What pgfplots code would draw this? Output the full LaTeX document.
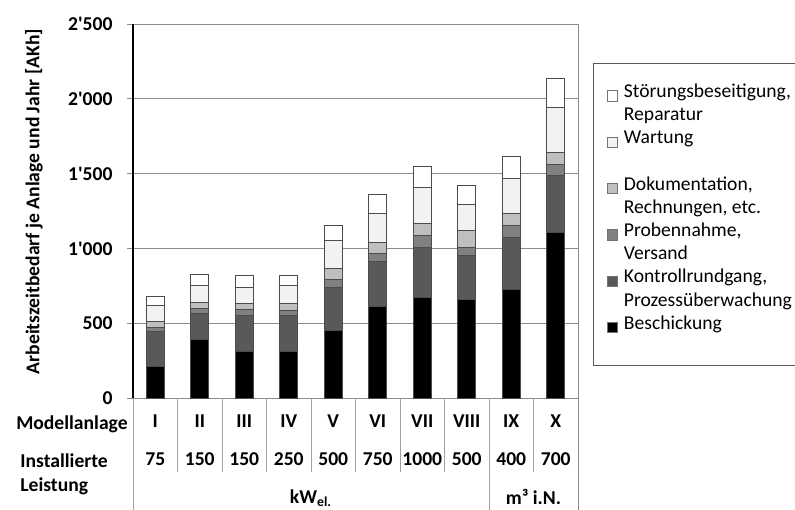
\documentclass[border=0pt]{standalone}
\usepackage{fontspec}
\setmainfont{Carlito}
\newfontfamily\tf{Carlito}
\usepackage{pgfplots}
\usepackage{pgfplotstable}
\pgfplotsset{compat=1.18}
\definecolor{cK}{HTML}{595959}
\definecolor{cP}{HTML}{808080}
\definecolor{cD}{HTML}{BFBFBF}
\definecolor{cW}{HTML}{F2F2F2}
\definecolor{gridc}{HTML}{8C8C8C}
\definecolor{sepc}{HTML}{A0A0A0}
\newcommand\f{\fontsize{9.8}{11.8}\selectfont}
\pgfplotsset{legsq/.style={legend image code/.code={\draw[draw=black!55,line width=0.4pt,fill=#1] (0pt,-1.3pt) rectangle (5.3pt,4pt);}}}
\pgfplotstableread{
x B K P D W S
1 209 235 30 37 105 64
2 390 174 34 41 112 73
3 309 244 38 40 111 74
4 311 240 33 47 118 73
5 451 291 51 76 182 104
6 609 302 56 75 193 123
7 671 338 75 80 240 143
8 658 293 53 118 169 129
9 722 354 75 80 233 149
10 1105 384 71 78 304 196
}\data
\begin{document}
\begin{tikzpicture}
\begin{axis}[
  scale only axis, width=222.5pt, height=187pt,
  ybar stacked, bar width=0.41,
  xmin=0.5, xmax=10.5, ymin=0, ymax=2500,
  clip=false,
  axis x line*=bottom, axis y line*=left,
  x axis line style={draw=gridc, line width=0.5pt},
  y axis line style={draw=black, line width=0.6pt},
  ytick={0,500,1000,1500,2000,2500},
  yticklabels={0,500,1'000,1'500,2'000,2'500},
  ymajorgrids, major grid style={draw=gridc, line width=0.5pt},
  tick align=outside, major tick length=3pt,
  ytick style={draw=gridc, line width=0.5pt},
  xtick style={draw=none},
  yticklabel style={font=\f\tf\bfseries, anchor=east, xshift=-3.7pt},
  xtick={1,...,10},
  xticklabels={I,II,III,IV,V,VI,VII,VIII,IX,X},
  xticklabel style={font=\f\bfseries, anchor=base, yshift=-11.8pt},
  extra x ticks={1,2,3,4,5,6,7,8,9,10},
  extra x tick labels={75,150,150,250,500,750,1000,500,400,700},
  extra x tick style={grid=none, xticklabel style={yshift=-19pt}},
  ylabel={Arbeitszeitbedarf je Anlage und Jahr [AKh]},
  every axis y label/.style={at={(axis description cs:-0.2225,0.525)}, rotate=90, anchor=center, font=\f\bfseries},
  legend style={at={(1.0344,0.8965)}, anchor=north west, draw=black!65, line width=0.5pt,
    inner xsep=6.5pt, inner ysep=12.7pt, font=\f, row sep=1.58pt, column sep=2.85pt,
    nodes={inner sep=0pt, text height=4.5pt, text depth=5.5pt}},
  legend cell align=left,
]
\addlegendimage{legsq=white}\addlegendentry{Störungsbeseitigung,}
\addlegendimage{empty legend}\addlegendentry{Reparatur}
\addlegendimage{legsq=cW}\addlegendentry{Wartung}
\addlegendimage{empty legend}\addlegendentry{}
\addlegendimage{legsq=cD}\addlegendentry{Dokumentation,}
\addlegendimage{empty legend}\addlegendentry{Rechnungen, etc.}
\addlegendimage{legsq=cP}\addlegendentry{Probennahme,}
\addlegendimage{empty legend}\addlegendentry{Versand}
\addlegendimage{legsq=cK}\addlegendentry{Kontrollrundgang,}
\addlegendimage{empty legend}\addlegendentry{Prozessüberwachung}
\addlegendimage{legsq=black}\addlegendentry{Beschickung}

\addplot[fill=black, draw=black!70, line width=0.5pt] table[x=x,y=B]{\data};
\addplot[fill=cK, draw=black!70, line width=0.5pt] table[x=x,y=K]{\data};
\addplot[fill=cP, draw=black!70, line width=0.5pt] table[x=x,y=P]{\data};
\addplot[fill=cD, draw=black!70, line width=0.5pt] table[x=x,y=D]{\data};
\addplot[fill=cW, draw=black!70, line width=0.5pt] table[x=x,y=W]{\data};
\addplot[fill=white, draw=black!70, line width=0.5pt] table[x=x,y=S]{\data};

\pgfplotsinvokeforeach{1.5,2.5,3.5,4.5,5.5,6.5,7.5,9.5}{
  \draw[sepc, line width=0.5pt] (axis cs:#1,0) -- ([yshift=-37pt]axis cs:#1,0);
}
\pgfplotsinvokeforeach{0.5,8.5}{
  \draw[sepc, line width=0.5pt] (axis cs:#1,0) -- ([yshift=-60pt]axis cs:#1,0);
}
\draw[gridc, line width=0.5pt] (axis cs:10.5,2500) -- ([yshift=-60pt]axis cs:10.5,0);

\node[anchor=base east, font=\f\bfseries, inner sep=0pt] at ([xshift=-2.5pt,yshift=-15.5pt]rel axis cs:0,0) {Modellanlage};
\node[anchor=base west, font=\f\bfseries, inner sep=0pt] at ([xshift=-56.5pt,yshift=-34.5pt]rel axis cs:0,0) {Installierte};
\node[anchor=base west, font=\f\bfseries, inner sep=0pt] at ([xshift=-56.5pt,yshift=-46.5pt]rel axis cs:0,0) {Leistung};
\node[anchor=base, font=\f\bfseries, inner sep=0pt] at ([yshift=-52.5pt]axis cs:4.5,0) {kW\textsubscript{el.}};
\node[anchor=base, font=\f\bfseries, inner sep=0pt] at ([yshift=-53pt]axis cs:9.5,0) {m³ i.N.};
\end{axis}
\pgfresetboundingbox
\path[use as bounding box] (-66.5pt,-55.5pt) rectangle (331pt,199pt);
\end{tikzpicture}
\end{document}
